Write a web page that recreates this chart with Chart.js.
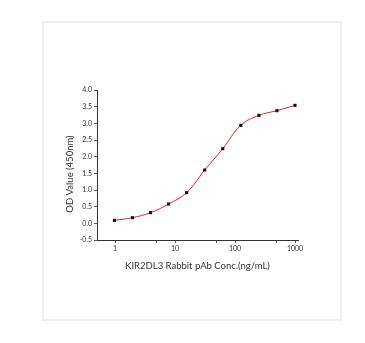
<!DOCTYPE html>
<html><head><meta charset="utf-8">
<script src="https://cdn.jsdelivr.net/npm/chart.js@4/dist/chart.umd.min.js"></script>
<style>
html,body{margin:0;padding:0;background:#fff;}
#wrap{position:relative;width:365px;height:343px;}
#frame{position:absolute;left:42px;top:21px;width:296px;height:296px;border:2px solid #eeeeee;}
canvas{position:absolute;left:0;top:0;}
</style></head>
<body><div id="wrap"><div id="frame"></div><canvas id="c" width="365" height="343"></canvas></div>
<script>
const concentrations = [0.977, 1.95, 3.9, 7.8, 15.6, 31.25, 62.5, 125, 250, 500, 1000];
const odValues = [0.09, 0.17, 0.32, 0.58, 0.92, 1.60, 2.24, 2.94, 3.24, 3.38, 3.54];
const xTickValues = [1, 5, 10, 50, 100, 500, 1000];
const xTickLabels = ['1', '', '10', '', '100', '', '1000'];
const xTitle = 'KIR2DL3 Rabbit pAb Conc.(ng/mL)';
const yTitle = 'OD Value (450nm)';

const pts = concentrations.map((x, i) => ({x, y: odValues[i]}));
const FONT = 'Lato, "Open Sans", sans-serif';
const TXT = '#333';

const yTitlePlugin = {
  id: 'yTitle',
  afterDraw(chart) {
    const a = chart.chartArea, ctx = chart.ctx;
    ctx.save();
    ctx.translate(a.left - 27, (a.top + a.bottom) / 2 + 9);
    ctx.rotate(-Math.PI / 2);
    ctx.font = '9.5px ' + FONT;
    ctx.fillStyle = TXT;
    ctx.textAlign = 'center';
    ctx.textBaseline = 'middle';
    ctx.fillText(yTitle, 0, 0);
    ctx.restore();
  }
};

new Chart(document.getElementById('c'), {
  type: 'scatter',
  data: {
    datasets: [
      {
        data: pts, showLine: true, borderColor: '#e3242b', borderWidth: 1,
        pointRadius: 0, tension: 0.4, order: 2
      },
      {
        data: pts, showLine: false, pointStyle: 'rect', pointRadius: 2.2,
        backgroundColor: '#111', borderColor: '#111', borderWidth: 0, order: 1
      }
    ]
  },
  plugins: [yTitlePlugin],
  options: {
    responsive: false, animation: false, devicePixelRatio: 1,
    plugins: {legend: {display: false}, tooltip: {enabled: false}},
    layout: {padding: {left: 62, right: 67, top: 90, bottom: 67}},
    scales: {
      x: {
        type: 'logarithmic', min: 0.5, max: 1122,
        afterBuildTicks: s => { s.ticks = xTickValues.map(v => ({value: v})); },
        afterFit: s => { s.height = 36; },
        ticks: {
          autoSkip: false, maxRotation: 0, padding: 2, color: TXT,
          font: {family: FONT, size: 7},
          callback: (v, i) => xTickLabels[i]
        },
        grid: {drawOnChartArea: false, drawTicks: true, tickLength: 3, color: '#333',
          tickWidth: 0.8},
        border: {color: '#333', width: 1},
        title: {display: true, text: xTitle, color: TXT, font: {family: FONT, size: 9.5},
          padding: {top: 6}}
      },
      y: {
        min: -0.5, max: 4.0,
        afterFit: s => { s.width = 35; },
        ticks: {
          stepSize: 0.25, color: TXT, padding: 2,
          font: {family: FONT, size: 7},
          callback: v => (Math.abs(v * 2 - Math.round(v * 2)) < 1e-6) ? v.toFixed(1) : ''
        },
        grid: {drawOnChartArea: false, drawTicks: true, tickLength: 3, color: '#333', tickWidth: 0.8},
        border: {color: '#333', width: 1},
        title: {display: false}
      }
    }
  }
});
</script></body></html>
